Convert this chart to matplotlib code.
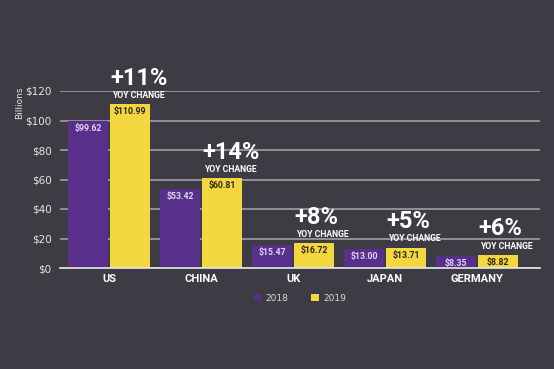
import numpy as np
import matplotlib.pyplot as plt

# data
countries = ["US", "CHINA", "UK", "JAPAN", "GERMANY"]
sales_2018 = [99.62, 53.42, 15.47, 13.00, 8.35]
sales_2019 = [110.99, 60.81, 16.72, 13.71, 8.82]
yoy_labels = ["+11%", "+14%", "+8%", "+5%", "+6%"]
y_ticks = [0, 20, 40, 60, 80, 100, 120]

BG = "#3d3c44"
PURPLE = "#58308c"
YELLOW = "#f3d73e"
GRID = "#a9a8ad"
NARROW = ["Roboto", "DejaVu Sans"]


def plot_chart():
    fig = plt.figure(figsize=(5.54, 3.69), dpi=100)
    fig.patch.set_facecolor(BG)
    ax = fig.add_axes([60 / 554, 101 / 369, 480 / 554, 177 / 369])
    ax.set_facecolor(BG)

    x = np.arange(len(countries))
    w = 0.435
    ax.bar(x - w / 2 - 0.01, sales_2018, w, color=PURPLE, label="2018", zorder=3)
    ax.bar(x + w / 2 + 0.01, sales_2019, w, color=YELLOW, label="2019", zorder=3)

    ax.set_xlim(-0.533, 4.685)
    ax.set_ylim(0, 120)
    ax.set_yticks(y_ticks)
    ax.set_yticklabels(["$%d" % t for t in y_ticks], color="#e6e6e6", fontsize=7.5)
    ax.yaxis.grid(True, color=GRID, linewidth=1.1, zorder=0)
    ax.tick_params(axis="y", length=0, pad=6)
    ax.set_xticks(x)
    ax.set_xticklabels(countries, color="white", fontsize=8, fontweight="bold",
                       family=NARROW)
    ax.tick_params(axis="x", length=0, pad=4)
    for s in ["top", "right", "left"]:
        ax.spines[s].set_visible(False)
    ax.spines["bottom"].set_color("#e8e8e8")
    ax.spines["bottom"].set_linewidth(1.2)
    ax.spines["bottom"].set_zorder(4)

    # value labels inside bars
    for i in range(len(countries)):
        xp = i - w / 2 - 0.01
        ax.text(xp, sales_2018[i] - 2, "$%.2f" % sales_2018[i], ha="center", va="top",
                color="#e0d4f2", fontsize=6.3, fontweight="bold", family=NARROW, zorder=5)
        xy = i + w / 2 + 0.01
        ax.text(xy, sales_2019[i] - 2, "$%.2f" % sales_2019[i], ha="center", va="top",
                color="#2a2620", fontsize=6.3, fontweight="bold", family=NARROW, zorder=5)
        # YoY annotation, left aligned with the 2019 bar
        left = xy - w / 2
        ax.text(left + 0.02, sales_2019[i] + 3, "YOY CHANGE", ha="left", va="bottom",
                color="white", fontsize=6.2, fontweight="bold", family=NARROW,
                clip_on=False)
        ax.text(left, sales_2019[i] + 10, yoy_labels[i], ha="left", va="bottom",
                color="white", fontsize=17, fontweight="bold", family=NARROW,
                clip_on=False)

    fig.text(20 / 554, 1 - 103 / 369, "Billions", rotation=90, ha="center", va="center",
             color="#e6e6e6", fontsize=6.5)

    leg = ax.legend(loc="upper center", bbox_to_anchor=(0.5, -0.1), ncol=2, frameon=False,
                    fontsize=6.5, handlelength=0.8, handleheight=0.8, columnspacing=2.5,
                    handletextpad=0.5)
    for t in leg.get_texts():
        t.set_color("#d8d8d8")

    return fig


if __name__ == "__main__":
    fig = plot_chart()
    fig.savefig("out.png", dpi=100, facecolor=BG)
